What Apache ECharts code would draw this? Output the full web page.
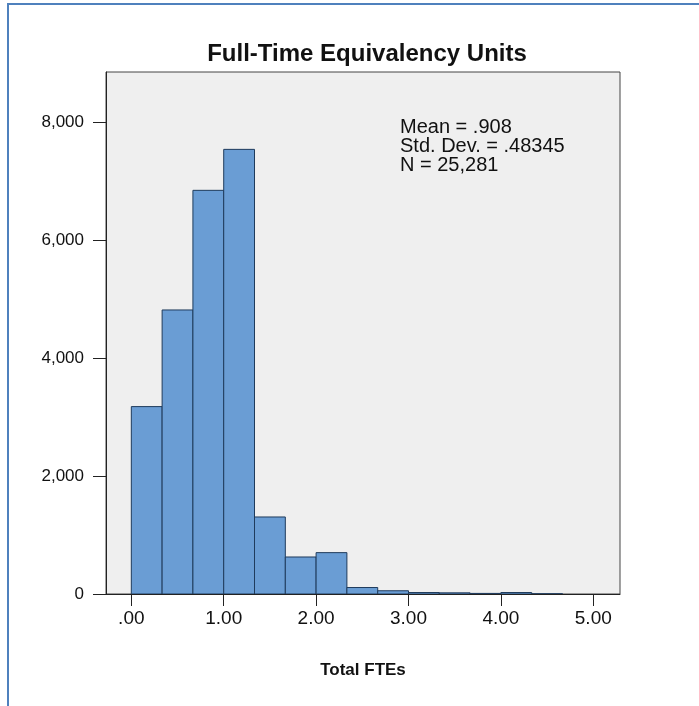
<!DOCTYPE html>
<html>
<head>
<meta charset="utf-8">
<script src="https://cdn.jsdelivr.net/npm/echarts@6/dist/echarts.min.js"></script>
<style>
  html, body { margin: 0; padding: 0; background: #fff; }
  #main { width: 699px; height: 706px; }
</style>
</head>
<body>
<div id="main"></div>
<script>
// histogram bins (Total FTEs), edges are in FTE units
var binEdges = [0, 0.3333, 0.6667, 1.0, 1.3333, 1.6667, 2.0, 2.3333, 2.6667, 3.0, 3.3333, 3.6667, 4.0, 4.3333, 4.6667];
var binCounts = [3180, 4820, 6850, 7545, 1307, 628, 702, 110, 55, 25, 20, 10, 25, 4];
var xTicks = [0, 1, 2, 3, 4, 5];
var xTickLabels = ['.00', '1.00', '2.00', '3.00', '4.00', '5.00'];
var yTicks = [0, 2000, 4000, 6000, 8000];
var statsLines = ['Mean = .908', 'Std. Dev. = .48345', 'N = 25,281'];

var histData = [];
for (var i = 0; i < binCounts.length; i++) {
    histData.push([binEdges[i], binEdges[i + 1], binCounts[i]]);
}

var myChart = echarts.init(document.getElementById('main'));

var options = {
    animation: false,
    backgroundColor: '#ffffff',
    title: {
        text: 'Full-Time Equivalency Units',
        left: 362,
        top: 37,
        textAlign: 'center',
        textStyle: {
            fontFamily: 'Liberation Sans, Arial, sans-serif',
            fontWeight: 'bold',
            fontSize: 24,
            color: '#111'
        }
    },
    grid: {
        left: 106,
        right: 79,
        top: 72,
        bottom: 112,
        show: true,
        backgroundColor: '#efefef',
        borderColor: '#444',
        borderWidth: 1
    },
    xAxis: {
        type: 'value',
        min: -0.274,
        max: 5.289,
        name: 'Total FTEs',
        nameLocation: 'middle',
        nameGap: 68,
        nameTextStyle: {
            fontFamily: 'Liberation Sans, Arial, sans-serif',
            fontWeight: 'bold',
            fontSize: 17,
            color: '#111'
        },
        axisLine: { show: true, onZero: false, lineStyle: { color: '#222', width: 1 } },
        axisTick: {
            show: true,
            length: 12,
            customValues: xTicks,
            lineStyle: { color: '#222' }
        },
        axisLabel: {
            customValues: xTicks,
            margin: 15,
            fontFamily: 'Liberation Sans, Arial, sans-serif',
            fontSize: 19,
            color: '#111',
            formatter: function (v) {
                var idx = xTicks.indexOf(v);
                return idx >= 0 ? xTickLabels[idx] : '';
            }
        },
        splitLine: { show: false }
    },
    yAxis: {
        type: 'value',
        min: 0,
        max: 8858,
        axisLine: { show: true, onZero: false, lineStyle: { color: '#222', width: 1 } },
        axisTick: {
            show: true,
            length: 13,
            customValues: yTicks,
            lineStyle: { color: '#222' }
        },
        axisLabel: {
            customValues: yTicks,
            margin: 22,
            fontFamily: 'Liberation Sans, Arial, sans-serif',
            fontSize: 17,
            color: '#111',
            formatter: function (v) {
                return v.toLocaleString('en-US');
            }
        },
        splitLine: { show: false }
    },
    series: [{
        type: 'custom',
        data: histData,
        clip: true,
        renderItem: function (params, api) {
            var top = api.coord([api.value(0), api.value(2)]);
            var bottom = api.coord([api.value(1), 0]);
            return {
                type: 'rect',
                shape: {
                    x: top[0],
                    y: top[1],
                    width: bottom[0] - top[0],
                    height: bottom[1] - top[1]
                },
                style: {
                    fill: '#6a9dd4',
                    stroke: '#1f3b5c',
                    lineWidth: 1
                }
            };
        },
        encode: { x: [0, 1], y: 2 }
    }],
    graphic: [{
        type: 'rect',
        shape: { x: 8, y: 4, width: 720, height: 740 },
        style: { fill: 'none', stroke: '#4f81bd', lineWidth: 2 },
        silent: true
    }, {
        type: 'text',
        left: 400,
        top: 117,
        style: {
            text: statsLines.join('\n'),
            fontFamily: 'Liberation Sans, Arial, sans-serif',
            fontSize: 20,
            lineHeight: 19,
            fill: '#111'
        }
    }]
};

myChart.setOption(options);
window.onresize = myChart.resize;
</script>
</body>
</html>
